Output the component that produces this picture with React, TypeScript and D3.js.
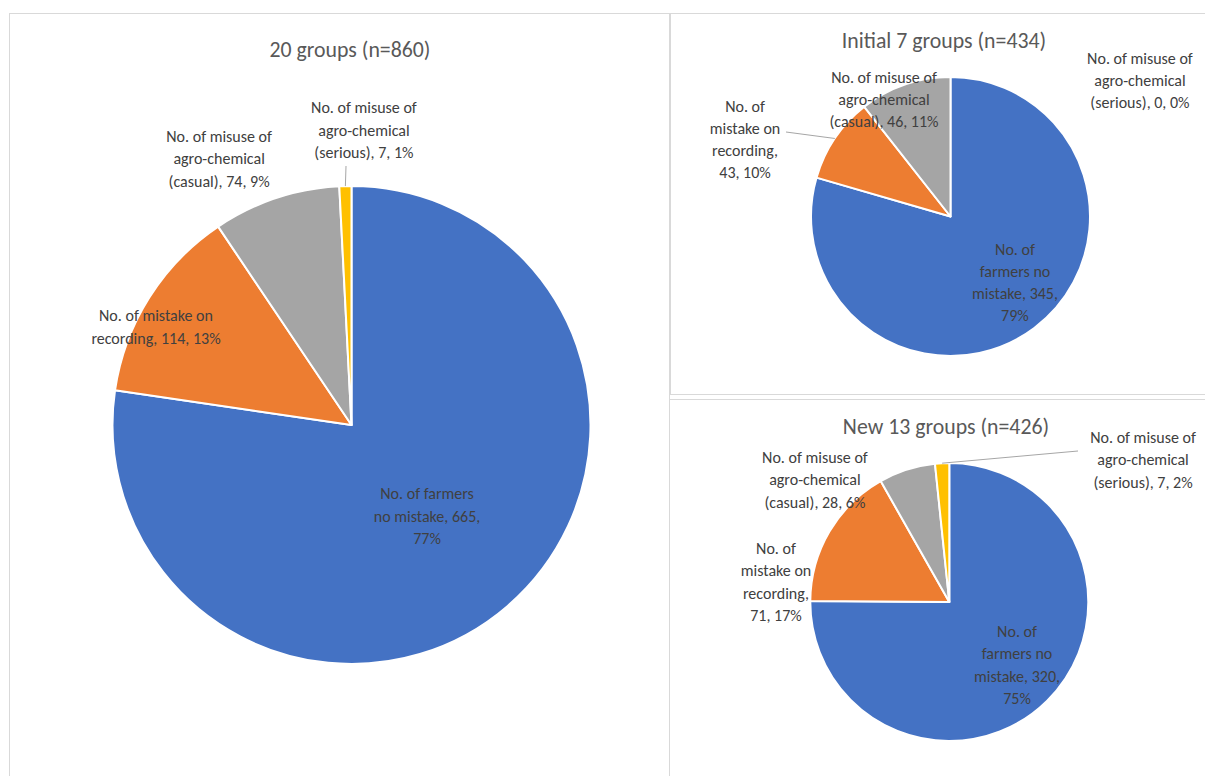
import React from 'react';
import * as d3 from 'd3';

const categories = [
  'No. of farmers no mistake',
  'No. of mistake on recording',
  'No. of misuse of agro-chemical (casual)',
  'No. of misuse of agro-chemical (serious)',
];
const sliceColors = ['#4472C4', '#ED7D31', '#A5A5A5', '#FFC000'];

const allGroupsValues = [665, 114, 74, 7];
const allGroupsPct = ['77%', '13%', '9%', '1%'];
const initialGroupsValues = [345, 43, 46, 0];
const initialGroupsPct = ['79%', '10%', '11%', '0%'];
const newGroupsValues = [320, 71, 28, 7];
const newGroupsPct = ['75%', '17%', '6%', '2%'];
const chartTitles = ['20 groups (n=860)', 'Initial 7 groups (n=434)', 'New 13 groups (n=426)'];

type LabelLayout = { fx: number; fy: number; wrap: number[]; leader?: [number, number] };
type ChartLayout = {
  cx: number; cy: number; r: number; titleX: number; titleY: number;
  labels: LabelLayout[];
};

const layouts: ChartLayout[] = [
  {
    cx: 351.5, cy: 425, r: 239, titleX: 350, titleY: 49,
    labels: [
      { fx: 0.316, fy: 0.381, wrap: [3, 3, 1] },
      { fx: -0.818, fy: -0.41, wrap: [4, 3] },
      { fx: -0.554, fy: -1.113, wrap: [4, 1, 3] },
      { fx: 0.052, fy: -1.234, wrap: [4, 1, 3], leader: [346, 166] },
    ],
  },
  {
    cx: 950.5, cy: 216.5, r: 139.5, titleX: 944, titleY: 40,
    labels: [
      { fx: 0.462, fy: 0.473, wrap: [2, 2, 2, 1] },
      { fx: -1.473, fy: -0.552, wrap: [2, 2, 1, 2], leader: [786, 132] },
      { fx: -0.477, fy: -0.839, wrap: [4, 1, 3] },
      { fx: 1.358, fy: -0.975, wrap: [4, 1, 3] },
    ],
  },
  {
    cx: 949.3, cy: 602, r: 139, titleX: 946, titleY: 426,
    labels: [
      { fx: 0.487, fy: 0.453, wrap: [2, 2, 2, 1] },
      { fx: -1.247, fy: -0.144, wrap: [2, 2, 1, 2] },
      { fx: -0.967, fy: -0.878, wrap: [4, 1, 3] },
      { fx: 1.394, fy: -1.022, wrap: [4, 1, 3], leader: [1078, 451] },
    ],
  },
];

const FONT = "Calibri, Carlito, 'Liberation Sans', Arial, sans-serif";
const LABEL_SIZE = 16;
const TITLE_SIZE = 21.8;
const LINE_H = 22.3;

function wrapWords(text: string, wrap: number[]): string[] {
  const words = text.split(' ');
  const lines: string[] = [];
  let i = 0;
  for (const n of wrap) {
    lines.push(words.slice(i, i + n).join(' '));
    i += n;
  }
  return lines;
}

function PieChart({ values, pcts, title, layout }: { values: number[]; pcts: string[]; title: string; layout: ChartLayout }) {
  const pie = d3.pie<number>().sort(null).value((d) => d);
  const arcs = pie(values);
  const arcGen = d3.arc<d3.PieArcDatum<number>>().innerRadius(0).outerRadius(layout.r);
  return (
    <g>
      <text x={layout.titleX} y={layout.titleY} textAnchor="middle" dominantBaseline="central"
        fontFamily={FONT} fontSize={TITLE_SIZE} fill="#595959">{title}</text>
      <g transform={`translate(${layout.cx},${layout.cy})`}>
        {arcs.map((a, i) => (
          a.value > 0 ? <path key={i} d={arcGen(a) || ''} fill={sliceColors[i]} stroke="#FFFFFF" strokeWidth={2} strokeLinejoin="round" /> : null
        ))}
      </g>
      {arcs.map((a, i) => {
        const lab = layout.labels[i];
        const x = layout.cx + lab.fx * layout.r;
        const y = layout.cy + lab.fy * layout.r;
        const text = `${categories[i]}, ${values[i]}, ${pcts[i]}`;
        const lines = wrapWords(text, lab.wrap);
        const mid = (a.startAngle + a.endAngle) / 2;
        const ex = layout.cx + Math.sin(mid) * layout.r;
        const ey = layout.cy - Math.cos(mid) * layout.r;
        return (
          <g key={i}>
            {lab.leader && (
              <line x1={lab.leader[0]} y1={lab.leader[1]} x2={ex} y2={ey} stroke="#A6A6A6" strokeWidth={1} />
            )}
            <text textAnchor="middle" fontFamily={FONT} fontSize={LABEL_SIZE} fill="#404040">
              {lines.map((ln, j) => (
                <tspan key={j} x={x} y={y + (j - (lines.length - 1) / 2) * LINE_H} dominantBaseline="central">{ln}</tspan>
              ))}
            </text>
          </g>
        );
      })}
    </g>
  );
}

export default function App() {
  const seriesList = [allGroupsValues, initialGroupsValues, newGroupsValues];
  const pctList = [allGroupsPct, initialGroupsPct, newGroupsPct];
  return (
    <svg width={1205} height={776} style={{ position: 'absolute', left: 0, top: 0, background: '#FFFFFF' }}>
      <rect x={0} y={0} width={1205} height={776} fill="#FFFFFF" />
      <rect x={9.5} y={13.5} width={660} height={800} fill="#FFFFFF" stroke="#D9D9D9" strokeWidth={1} />
      <rect x={670.5} y={13.5} width={560} height={381} fill="#FFFFFF" stroke="#D9D9D9" strokeWidth={1} />
      <rect x={669.5} y={399.5} width={560} height={400} fill="#FFFFFF" stroke="#D9D9D9" strokeWidth={1} />
      {seriesList.map((vals, k) => (
        <PieChart key={k} values={vals} pcts={pctList[k]} title={chartTitles[k]} layout={layouts[k]} />
      ))}
    </svg>
  );
}
